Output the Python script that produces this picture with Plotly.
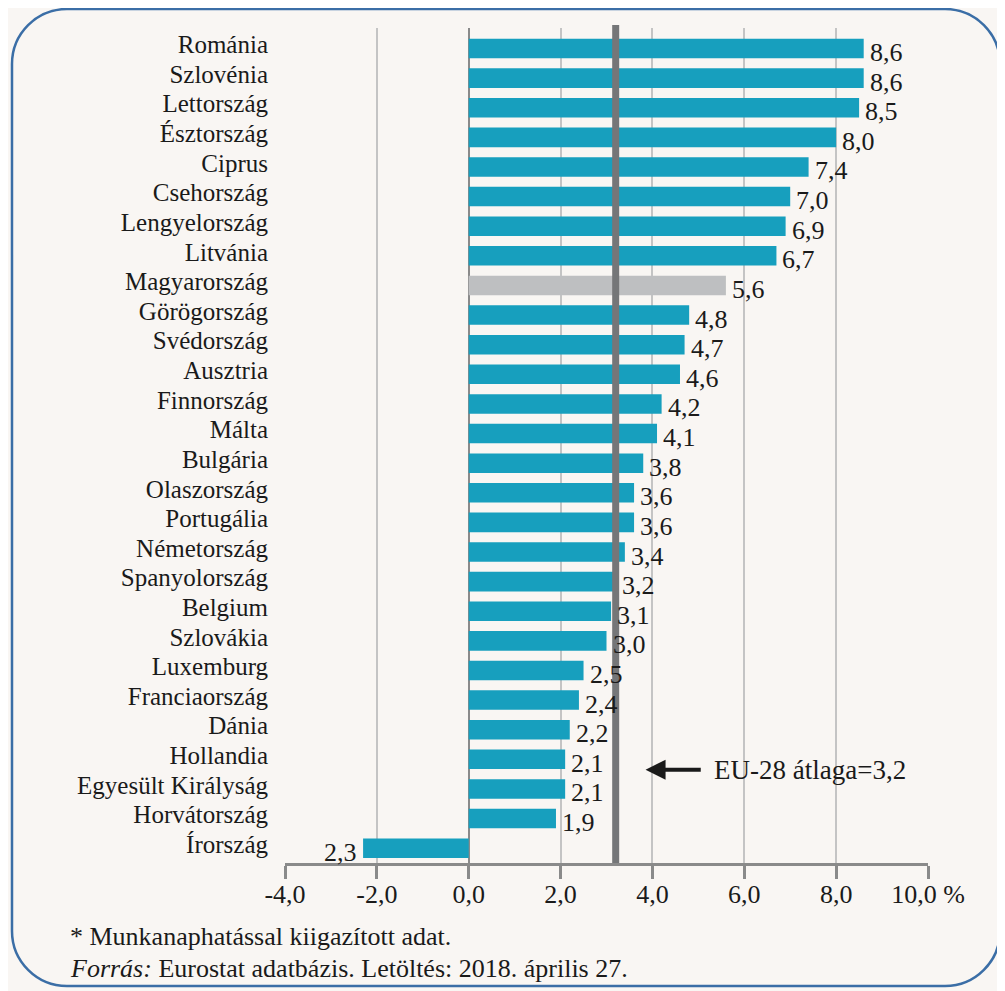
import plotly.graph_objects as go

# --- data ---
countries = [
    "Románia", "Szlovénia", "Lettország", "Észtország", "Ciprus", "Csehország",
    "Lengyelország", "Litvánia", "Magyarország", "Görögország", "Svédország",
    "Ausztria", "Finnország", "Málta", "Bulgária", "Olaszország", "Portugália",
    "Németország", "Spanyolország", "Belgium", "Szlovákia", "Luxemburg",
    "Franciaország", "Dánia", "Hollandia", "Egyesült Királyság", "Horvátország",
    "Írország",
]
values = [8.6, 8.6, 8.5, 8.0, 7.4, 7.0, 6.9, 6.7, 5.6, 4.8, 4.7, 4.6, 4.2, 4.1,
          3.8, 3.6, 3.6, 3.4, 3.2, 3.1, 3.0, 2.5, 2.4, 2.2, 2.1, 2.1, 1.9, -2.3]
value_labels = ["8,6", "8,6", "8,5", "8,0", "7,4", "7,0", "6,9", "6,7", "5,6",
                "4,8", "4,7", "4,6", "4,2", "4,1", "3,8", "3,6", "3,6", "3,4",
                "3,2", "3,1", "3,0", "2,5", "2,4", "2,2", "2,1", "2,1", "1,9",
                "2,3"]
highlight = "Magyarország"
eu_avg = 3.2
eu_label = "EU-28 átlaga=3,2"
x_ticks = [-4, -2, 0, 2, 4, 6, 8, 10]
x_ticktext = ["-4,0", "-2,0", "0,0", "2,0", "4,0", "6,0", "8,0", "10,0 %"]

# --- styling ---
TEAL = "#179fbe"
GREY_BAR = "#bebfc1"
AVG_LINE = "#757678"
BG = "#f9f6f3"
BORDER = "#3b6ea6"
INK = "#1a1a1a"
FONT = "Liberation Serif"

# the page puts the figure 8px in from the top-left corner
OFF = 8
W, H = 1005 - OFF, 991 - OFF
ML, MR, MT, MB = 285 - OFF, 77, 28 - OFF, 128
PW, PH = W - ML - MR, H - MT - MB


def px(xp):
    # screen x pixel -> paper fraction
    return (xp - OFF - ML) / PW


def py(yp):
    # screen y pixel -> paper fraction
    return (H - MB - (yp - OFF)) / PH


def rounded_rect(x0, y0, x1, y1, r):
    k = 0.5523 * r
    pts = [
        f"M {px(x0 + r)},{py(y0)}",
        f"L {px(x1 - r)},{py(y0)}",
        f"C {px(x1 - r + k)},{py(y0)} {px(x1)},{py(y0 + r - k)} {px(x1)},{py(y0 + r)}",
        f"L {px(x1)},{py(y1 - r)}",
        f"C {px(x1)},{py(y1 - r + k)} {px(x1 - r + k)},{py(y1)} {px(x1 - r)},{py(y1)}",
        f"L {px(x0 + r)},{py(y1)}",
        f"C {px(x0 + r - k)},{py(y1)} {px(x0)},{py(y1 - r + k)} {px(x0)},{py(y1 - r)}",
        f"L {px(x0)},{py(y0 + r)}",
        f"C {px(x0)},{py(y0 + r - k)} {px(x0 + r - k)},{py(y0)} {px(x0 + r)},{py(y0)}",
        "Z",
    ]
    return " ".join(pts)


colors = [GREY_BAR if c == highlight else TEAL for c in countries]

fig = go.Figure()
fig.add_trace(
    go.Bar(
        x=values,
        y=countries,
        orientation="h",
        marker=dict(color=colors, line=dict(width=0)),
        width=0.66,
        hoverinfo="skip",
        showlegend=False,
    )
)

# EU average line
fig.add_shape(
    type="line", xref="x", yref="paper", x0=eu_avg, x1=eu_avg, y0=0, y1=py(25),
    line=dict(color=AVG_LINE, width=7), layer="above",
)

# rounded frame
fig.add_shape(
    type="path", xref="paper", yref="paper", path=rounded_rect(12, 9, 1000, 986, 55),
    line=dict(color=BORDER, width=2.5), layer="below",
)

# value labels, sitting a little below the bar centre
for c, v, t in zip(countries, values, value_labels):
    fig.add_annotation(
        x=v, y=c, text=t, showarrow=False,
        xanchor="left" if v >= 0 else "right",
        xshift=4 if v >= 0 else -4, yshift=-4,
        font=dict(family=FONT, size=26, color=INK),
    )

# arrow + label
arrow_y = 24.35
fig.add_annotation(
    x=3.85, y=arrow_y, ax=5.15, ay=arrow_y, axref="x", ayref="y", xref="x", yref="y",
    text=" ", showarrow=True, arrowhead=2, arrowsize=1, arrowwidth=4,
    arrowcolor=INK,
)
fig.add_annotation(
    x=5.3, y=arrow_y, xref="x", yref="y", text=eu_label, showarrow=False,
    xanchor="left", yanchor="middle",
    font=dict(family=FONT, size=27, color=INK),
)

# footnotes
fig.add_annotation(
    x=px(68), y=py(936), xref="paper", yref="paper", xanchor="left", yanchor="middle",
    text="* Munkanaphatással kiigazított adat.", showarrow=False,
    font=dict(family=FONT, size=26, color=INK),
)
fig.add_annotation(
    x=px(68), y=py(968), xref="paper", yref="paper", xanchor="left", yanchor="middle",
    text="<i>Forrás:</i> Eurostat adatbázis. Letöltés: 2018. április 27.", showarrow=False,
    font=dict(family=FONT, size=26, color=INK),
)

fig.update_layout(
    width=W,
    height=H,
    margin=dict(l=ML, r=MR, t=MT, b=MB),
    paper_bgcolor=BG,
    plot_bgcolor=BG,
    font=dict(family=FONT, size=25, color=INK),
    xaxis=dict(
        range=[-4, 10],
        tickvals=x_ticks,
        ticktext=x_ticktext,
        showgrid=True,
        gridcolor="#c4c4c4",
        gridwidth=1.5,
        zeroline=True,
        zerolinecolor="#8a8a8a",
        zerolinewidth=2,
        showline=True,
        linecolor="#8a8a8a",
        linewidth=2.5,
        ticks="outside",
        ticklen=13,
        tickwidth=2.5,
        tickcolor="#8a8a8a",
        tickfont=dict(family=FONT, size=26, color=INK),
        ticklabelstandoff=-7,
    ),
    yaxis=dict(
        autorange="reversed",
        tickmode="array",
        tickvals=countries,
        ticktext=countries,
        showgrid=False,
        showline=False,
        zeroline=False,
        ticks="",
        tickfont=dict(family=FONT, size=25, color=INK),
        ticklabelstandoff=16,
        ticklabelshift=4,
    ),
)

fig.write_html("out.html")
